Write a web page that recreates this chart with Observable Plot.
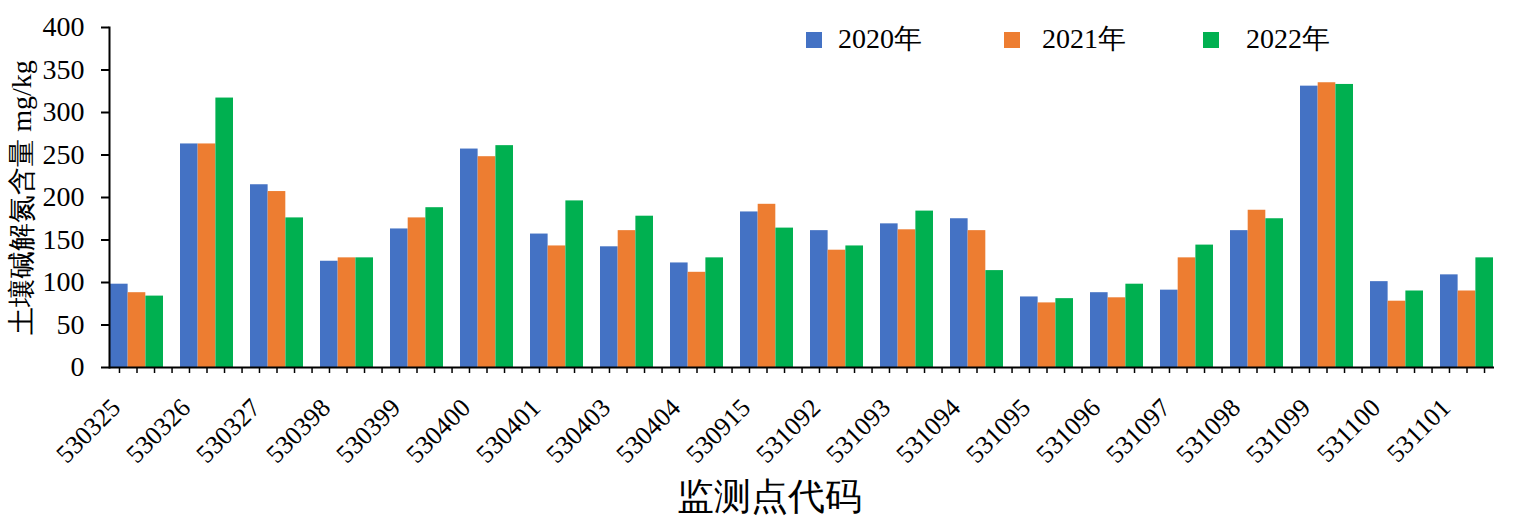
<!DOCTYPE html>
<html><head><meta charset="utf-8">
<script src="https://cdn.jsdelivr.net/npm/d3@7"></script>
<script src="https://cdn.jsdelivr.net/npm/@observablehq/plot@0.6"></script>
<style>
body{margin:0;background:#fff;}
#wrap{position:relative;width:1520px;height:532px;background:#fff;}
.lgt{position:absolute;font-family:"Liberation Serif","Times New Roman",serif;font-size:28px;color:#000;line-height:28px;white-space:nowrap;}
.sw{position:absolute;width:16px;height:16px;}
#wrap svg text{font-family:"Liberation Serif","Times New Roman",serif;}
</style></head><body><div id="wrap"></div>
<script>
const categories = ["530325","530326","530327","530398","530399","530400","530401","530403","530404","530915","531092","531093","531094","531095","531096","531097","531098","531099","531100","531101"];
const years = ["2020年","2021年","2022年"];
const v2020 = [98, 263, 215, 125, 163, 257, 157, 142, 123, 183, 161, 169, 175, 83, 88, 91, 161, 331, 101, 109];
const v2021 = [88, 263, 207, 129, 176, 248, 143, 161, 112, 192, 138, 162, 161, 76, 82, 129, 185, 335, 78, 90];
const v2022 = [84, 317, 176, 129, 188, 261, 196, 178, 129, 164, 143, 184, 114, 81, 98, 144, 175, 333, 90, 129];
const colors = ["#4472C4","#ED7D31","#00B050"];
const yTicks = [0,50,100,150,200,250,300,350,400];
const yTitle = "土壤碱解氮含量 mg/kg";
const xTitle = "监测点代码";

const W=1520, H=532, mL=109, mR=26, mT=27, mB=165;
const padInner = 0.243;
const step = (W-mL-mR)/(categories.length - padInner);
const bw = step*(1-padInner);
const series = [v2020, v2021, v2022];
const font = "Liberation Serif";

const barMarks = series.map((vals,k)=>Plot.barY(
  categories.map((c,i)=>({cat:c, value:vals[i], year:years[k]})),
  {x:"cat", y:"value", fill:"year", insetLeft:k*bw/3, insetRight:(2-k)*bw/3}
));

const chart = Plot.plot({
  width:W, height:H, marginLeft:mL, marginRight:mR, marginTop:mT, marginBottom:mB,
  style:{fontFamily:font, color:"#000", background:"#fff", overflow:"visible"},
  x:{domain:categories, paddingInner:padInner, paddingOuter:0, align:0.5, label:null},
  y:{domain:[0,400], label:null},
  color:{domain:years, range:colors},
  marks:[
    ...barMarks,
    Plot.ruleY([0], {stroke:"#000", strokeWidth:2}),
    Plot.frame({anchor:"left", stroke:"#000", strokeWidth:2}),
    Plot.axisY({ticks:yTicks, tickSize:8, tickPadding:17, fontSize:28, label:null, strokeWidth:2}),
    Plot.axisY({ticks:[], label:yTitle, labelAnchor:"center", labelOffset:98, fontSize:28, labelArrow:"none"}),
    Plot.axisX({tickSize:0, tickRotate:-45, tickPadding:36, dx:-21, fontSize:26, label:null}),
    Plot.axisX({tickSize:6, strokeWidth:1.5, tickFormat:()=>"", label:null}),
    Plot.axisX({tickSize:6, strokeWidth:1.5, dx:-step/4, tickFormat:()=>"", label:null}),
    Plot.axisX({tickSize:6, strokeWidth:1.5, dx:step/4, tickFormat:()=>"", label:null}),
    Plot.axisX({ticks:categories.slice(0,-1), tickSize:6, strokeWidth:1.5, dx:step/2, tickFormat:()=>"", label:null}),
    Plot.text([xTitle], {text:d=>d, frameAnchor:"bottom", dx:-33, dy:130, fontSize:37, lineAnchor:"middle"})
  ]
});
const wrap = document.getElementById("wrap");
wrap.appendChild(chart);

// legend
const lg = [{sq:806, tx:838},{sq:1004, tx:1042},{sq:1203, tx:1246}];
years.forEach((y,k)=>{
  const s=document.createElement("div"); s.className="sw";
  s.style.left=lg[k].sq+"px"; s.style.top="32px"; s.style.background=colors[k];
  wrap.appendChild(s);
  const t=document.createElement("div"); t.className="lgt";
  t.style.left=lg[k].tx+"px"; t.style.top="25px"; t.textContent=y;
  wrap.appendChild(t);
});
</script>
</body></html>
